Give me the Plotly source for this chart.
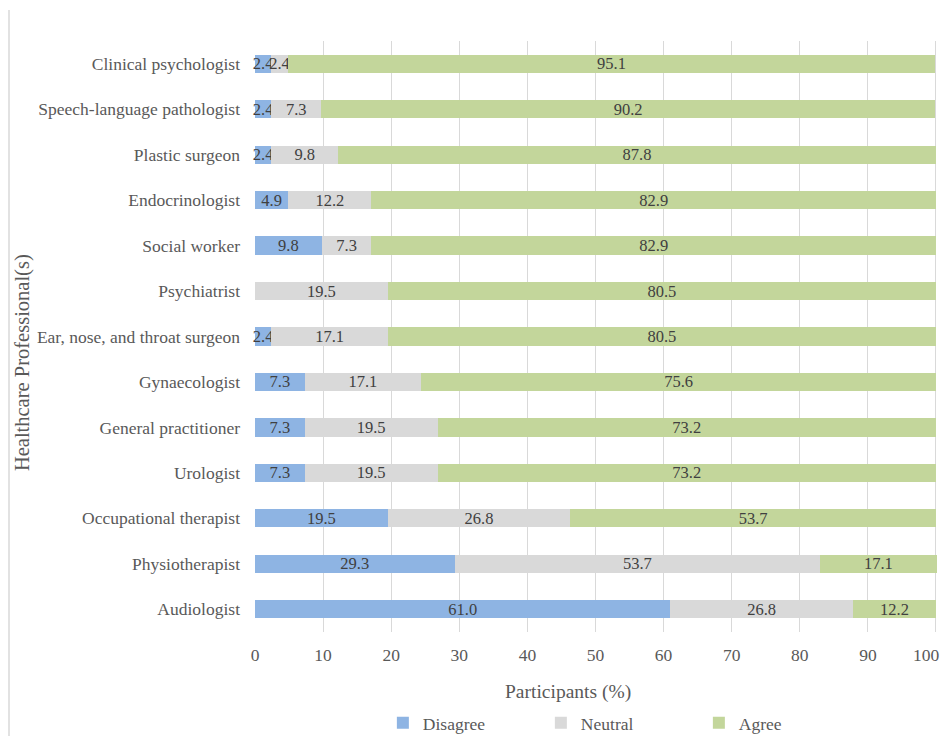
import plotly.graph_objects as go

categories = [
    "Clinical psychologist", "Speech-language pathologist", "Plastic surgeon",
    "Endocrinologist", "Social worker", "Psychiatrist",
    "Ear, nose, and throat surgeon", "Gynaecologist", "General practitioner",
    "Urologist", "Occupational therapist", "Physiotherapist", "Audiologist",
]
disagree = [2.4, 2.4, 2.4, 4.9, 9.8, 0.0, 2.4, 7.3, 7.3, 7.3, 19.5, 29.3, 61.0]
neutral = [2.4, 7.3, 9.8, 12.2, 7.3, 19.5, 17.1, 17.1, 19.5, 19.5, 26.8, 53.7, 26.8]
agree = [95.1, 90.2, 87.8, 82.9, 82.9, 80.5, 80.5, 75.6, 73.2, 73.2, 53.7, 17.1, 12.2]
x_ticks = [0, 10, 20, 30, 40, 50, 60, 70, 80, 90, 100]

FONT = "Liberation Serif"
TXT = "#595959"

def labels(vals):
    return [f"{v:.1f}" if v > 0 else "" for v in vals]

fig = go.Figure()
for name, vals, col in [("Disagree", disagree, "#8EB4E3"),
                        ("Neutral", neutral, "#D9D9D9"),
                        ("Agree", agree, "#C3D69B")]:
    fig.add_trace(go.Bar(
        y=categories, x=vals, name=name, orientation="h",
        marker=dict(color=col, line=dict(width=0)),
        width=0.4,
        text=labels(vals), textposition="inside", insidetextanchor="middle",
        textangle=0, textfont=dict(family=FONT, size=16.5, color="#404040"),
        cliponaxis=False,
    ))

# the last tick label would be cut at the window edge, so it is drawn as a
# right-aligned annotation at the same axis value
tick_text = [str(t) for t in x_ticks[:-1]] + [""]

# page body has an 8px margin, so the figure is drawn 8px in from the corner
fig.update_layout(
    barmode="stack",
    width=951, height=728,
    margin=dict(l=247, r=22, t=33, b=104, autoexpand=False),
    paper_bgcolor="white", plot_bgcolor="white",
    font=dict(family=FONT, color=TXT, size=17),
    uniformtext=dict(minsize=16.5, mode="show"),
    showlegend=True,
    legend=dict(orientation="h", x=0.535, xanchor="center",
                yref="container", y=0.018, yanchor="middle",
                font=dict(family=FONT, size=17.5, color=TXT),
                entrywidth=113, traceorder="normal", itemsizing="constant",
                itemwidth=30),
    xaxis=dict(range=[0, 100.15], tickvals=x_ticks, ticktext=tick_text,
               showgrid=True, gridcolor="#D9D9D9",
               gridwidth=1, zeroline=False, showline=False, ticks="",
               ticklabelstandoff=10, ticklabeloverflow="allow",
               tickfont=dict(family=FONT, size=17.5, color=TXT)),
    yaxis=dict(categoryorder="array", categoryarray=categories[::-1],
               range=[-0.5, 12.5], showgrid=False, zeroline=False, showline=False,
               ticks="", ticklabelstandoff=14, automargin=False,
               tickfont=dict(family=FONT, size=17.5, color=TXT)),
    annotations=[
        dict(text=str(x_ticks[-1]), xref="x", yref="paper", x=x_ticks[-1], y=-0.039,
             xanchor="right", yanchor="middle", xshift=6, showarrow=False,
             font=dict(family=FONT, size=17.5, color=TXT)),
        dict(text="Participants (%)", xref="paper", yref="paper", x=0.459, y=-0.1015,
             showarrow=False, xanchor="center", yanchor="middle",
             font=dict(family=FONT, size=19.5, color=TXT)),
        dict(text="Healthcare Professional(s)", xref="paper", yref="paper",
             x=-0.3416, y=0.455, textangle=-90, showarrow=False,
             xanchor="center", yanchor="middle",
             font=dict(family=FONT, size=20.5, color=TXT)),
    ],
    shapes=[dict(type="line", xref="paper", yref="paper",
                 x0=-0.3607, x1=-0.3607, y0=1.0525, y1=-0.19,
                 line=dict(color="#D9D9D9", width=1.5))],
)

fig.write_html("out.html")
